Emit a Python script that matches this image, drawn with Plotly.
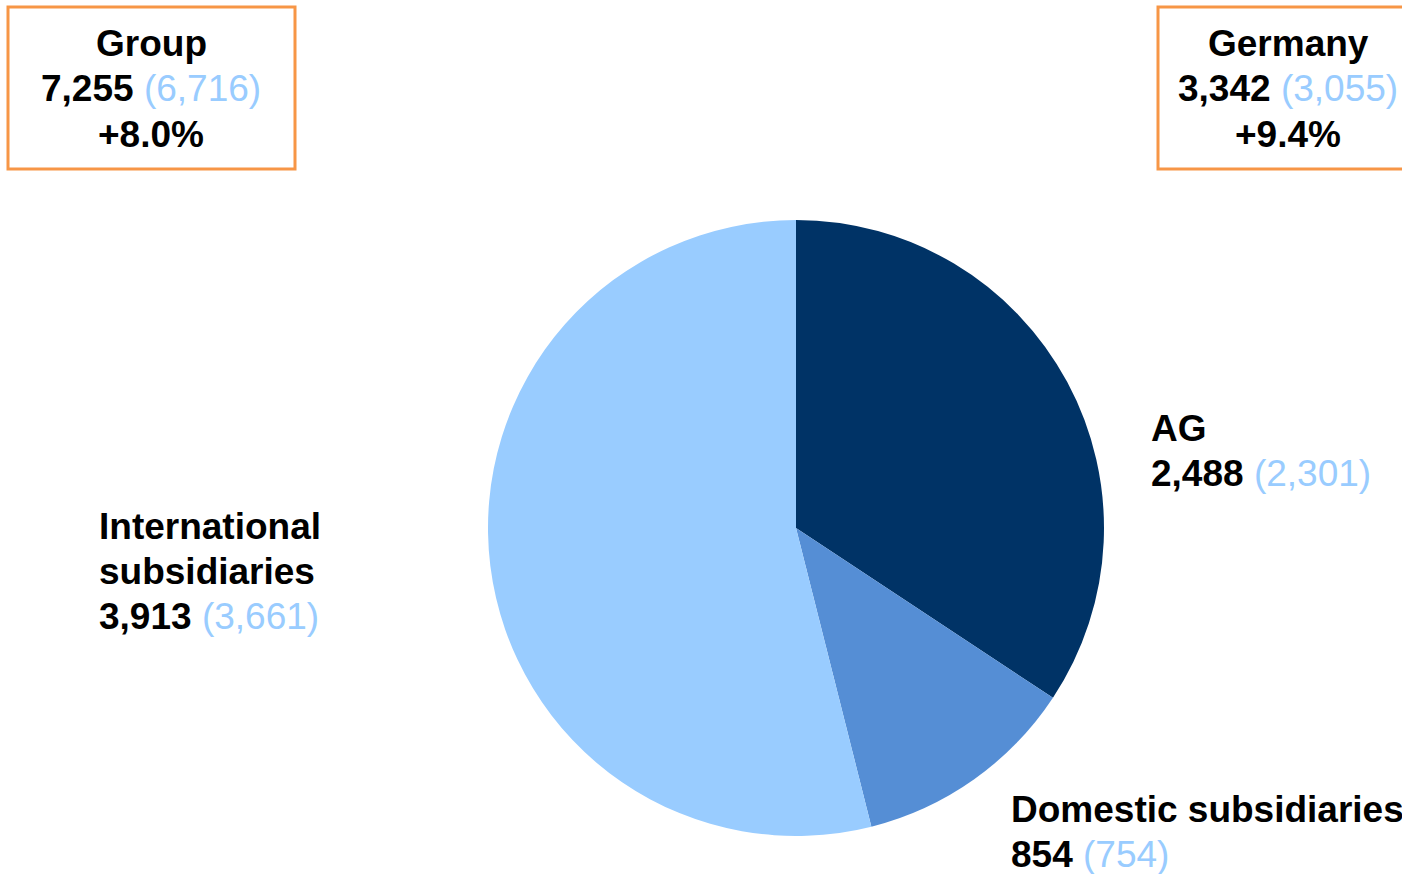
import plotly.graph_objects as go

segments = ["AG", "Domestic subsidiaries", "International subsidiaries"]
label_lines = [["AG"], ["Domestic subsidiaries"], ["International", "subsidiaries"]]
values = [2488, 854, 3913]
prior = [2301, 754, 3661]
colors = ["#003366", "#558ED5", "#99CCFF"]

W, H = 1402, 874
FONT = "Liberation Sans, Arial, sans-serif"
FS = 37
LINE = 45
PRIOR_COLOR = "#99CCFF"
BOX_COLOR = "#F79646"


def px(x):
    return x / W


def py(y):
    return 1 - y / H


fig = go.Figure(go.Pie(
    labels=segments, values=values, sort=False, direction="clockwise", rotation=0,
    marker=dict(colors=colors, line=dict(width=0)),
    textinfo="none", hoverinfo="label+value", showlegend=False,
    domain=dict(x=[px(488), px(1104)], y=[py(836), py(220)]),
))


def fmt(v):
    return f"{v:,}"


def value_line(cur, prev):
    return f"<b>{fmt(cur)}</b> <span style='color:{PRIOR_COLOR}'>({fmt(prev)})</span>"


annotations = []


def add_lines(lines, x, y_first, anchor):
    for i, t in enumerate(lines):
        annotations.append(dict(
            x=px(x), y=py(y_first + i * LINE), xref="paper", yref="paper",
            xanchor=anchor, yanchor="middle", align=anchor if anchor != "center" else "center",
            showarrow=False, text=t, borderpad=0, borderwidth=0,
            font=dict(family=FONT, size=FS, color="#000000"),
        ))


# segment labels
label_pos = [(1151, 428), (1011, 809), (99, 526)]
for lines, v, p, (x, y) in zip(label_lines, values, prior, label_pos):
    texts = [f"<b>{l}</b>" for l in lines] + [value_line(v, p)]
    add_lines(texts, x, y, "left")

# summary boxes
group_cur, group_prev = sum(values), sum(prior)
ger_cur, ger_prev = values[0] + values[1], prior[0] + prior[1]
boxes = [
    ("Group", group_cur, group_prev, (8, 7, 295, 169), 151),
    ("Germany", ger_cur, ger_prev, (1158, 7, 1420, 169), 1288),
]
shapes = []
for title, cur, prev, (x0, y0, x1, y1), cx in boxes:
    pct = (cur / prev - 1) * 100
    texts = [f"<b>{title}</b>", value_line(cur, prev), f"<b>{pct:+.1f}%</b>"]
    shapes.append(dict(type="rect", xref="paper", yref="paper",
                       x0=px(x0), x1=px(x1), y0=py(y1), y1=py(y0),
                       line=dict(color=BOX_COLOR, width=3), fillcolor="rgba(0,0,0,0)"))
    add_lines(texts, cx, 44, "center")

fig.update_layout(
    width=W, height=H, margin=dict(l=0, r=0, t=0, b=0),
    paper_bgcolor="white", plot_bgcolor="white",
    annotations=annotations, shapes=shapes,
)

fig.write_html("out.html")
